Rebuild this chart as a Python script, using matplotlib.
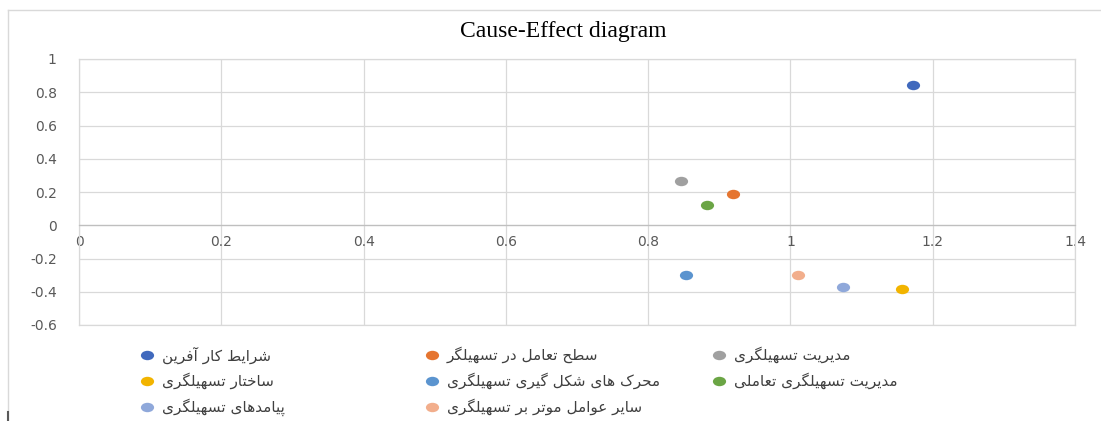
import matplotlib
matplotlib.use('Agg')
import matplotlib.pyplot as plt
from matplotlib.path import Path
from matplotlib.transforms import Affine2D
from matplotlib.lines import Line2D

# series labels (one point each)
labels = ['شرایط کار آفرین', 'سطح تعامل در تسهیلگر', 'مدیریت تسهیلگری',
          'ساختار تسهیلگری', 'محرک های شکل گیری تسهیلگری', 'مدیریت تسهیلگری تعاملی',
          'پیامدهای تسهیلگری', 'سایر عوامل موتر بر تسهیلگری']
x_vals = [1.172, 0.919, 0.846, 1.157, 0.853, 0.883, 1.074, 1.010]
y_vals = [0.844, 0.188, 0.264, -0.382, -0.300, 0.122, -0.372, -0.300]
colors = ['#4069BD', '#E57530', '#A0A0A0', '#F2B400', '#5B94CF', '#6BA545', '#8FA8DA', '#F2AE8C']

x_ticks = [0, 0.2, 0.4, 0.6, 0.8, 1.0, 1.2, 1.4]
y_ticks = [-0.6, -0.4, -0.2, 0, 0.2, 0.4, 0.6, 0.8, 1.0]

W, H = 1101, 421

# no bidi/shaping in matplotlib: use presentation forms and reverse
FORMS = {
    'ا': ('\uFE8D', '\uFE8E'),
    'آ': ('\uFE81', '\uFE82'),
    'ب': ('\uFE8F', '\uFE90', '\uFE91', '\uFE92'),
    'پ': ('\uFB56', '\uFB57', '\uFB58', '\uFB59'),
    'ت': ('\uFE95', '\uFE96', '\uFE97', '\uFE98'),
    'ح': ('\uFEA1', '\uFEA2', '\uFEA3', '\uFEA4'),
    'خ': ('\uFEA5', '\uFEA6', '\uFEA7', '\uFEA8'),
    'د': ('\uFEA9', '\uFEAA'),
    'ر': ('\uFEAD', '\uFEAE'),
    'س': ('\uFEB1', '\uFEB2', '\uFEB3', '\uFEB4'),
    'ش': ('\uFEB5', '\uFEB6', '\uFEB7', '\uFEB8'),
    'ط': ('\uFEC1', '\uFEC2', '\uFEC3', '\uFEC4'),
    'ع': ('\uFEC9', '\uFECA', '\uFECB', '\uFECC'),
    'ف': ('\uFED1', '\uFED2', '\uFED3', '\uFED4'),
    'ک': ('\uFB8E', '\uFB8F', '\uFB90', '\uFB91'),
    'گ': ('\uFB92', '\uFB93', '\uFB94', '\uFB95'),
    'ل': ('\uFEDD', '\uFEDE', '\uFEDF', '\uFEE0'),
    'م': ('\uFEE1', '\uFEE2', '\uFEE3', '\uFEE4'),
    'ن': ('\uFEE5', '\uFEE6', '\uFEE7', '\uFEE8'),
    'ه': ('\uFEE9', '\uFEEA', '\uFEEB', '\uFEEC'),
    'و': ('\uFEED', '\uFEEE'),
    'ی': ('\uFBFC', '\uFBFD', '\uFBFE', '\uFBFF'),
}


def shape(s):
    s = s.replace('\u064A', 'ی').replace('\u0643', 'ک')
    out = []
    for i, c in enumerate(s):
        if c not in FORMS:
            out.append(c)
            continue
        f = FORMS[c]
        prev = s[i - 1] if i > 0 else ''
        nxt = s[i + 1] if i + 1 < len(s) else ''
        jp = prev in FORMS and len(FORMS[prev]) == 4
        jn = len(f) == 4 and nxt in FORMS
        if jp and jn:
            out.append(f[3])
        elif jp:
            out.append(f[1])
        elif jn:
            out.append(f[2])
        else:
            out.append(f[0])
    return ''.join(reversed(out))


plt.rcParams['font.family'] = ['DejaVu Sans']

fig = plt.figure(figsize=(W / 100, H / 100), dpi=100)
ax = fig.add_axes([79 / W, 1 - 325 / H, (1075 - 79) / W, (325 - 59) / H])

# Excel markers look stretched sideways
ellipse = Path.unit_circle().transformed(Affine2D().scale(1.4, 1.0))

for x, y, c, lab in zip(x_vals, y_vals, colors, labels):
    ax.plot([x], [y], linestyle='none', marker=ellipse, ms=9.5, color=c,
            mec='none', label=lab, zorder=3)

ax.set_xlim(0, 1.4)
ax.set_ylim(-0.6, 1.0)
ax.set_xticks(x_ticks)
ax.set_yticks(y_ticks)
ax.set_xticklabels([f'{v:g}' for v in x_ticks])
ax.set_yticklabels([f'{v:g}' for v in y_ticks])
ax.tick_params(length=0, labelsize=10, colors='#595959')
ax.tick_params(axis='y', pad=16)
ax.tick_params(axis='x', pad=7)
ax.grid(True, color='#D9D9D9', linewidth=0.9)
ax.set_axisbelow(True)
for side in ['top', 'right', 'left']:
    ax.spines[side].set_color('#D9D9D9')
    ax.spines[side].set_linewidth(0.9)
ax.spines['bottom'].set_position(('data', 0))
ax.spines['bottom'].set_color('#BFBFBF')
ax.spines['bottom'].set_linewidth(0.9)
ax.axhline(-0.6, color='#D9D9D9', linewidth=0.9, clip_on=False)

fig.text(563 / W, 1 - 31 / H, 'Cause-Effect diagram', ha='center', va='center',
         fontsize=17, family='Liberation Serif', color='#000000')

# legend, laid out like Excel's fixed three columns
col_x = [147, 432, 719]
row_y = [355, 381, 407]
for i, (lab, c) in enumerate(zip(labels, colors)):
    mx = col_x[i % 3]
    my = row_y[i // 3]
    fig.add_artist(Line2D([mx / W], [1 - my / H], transform=fig.transFigure,
                          linestyle='none', marker=ellipse, ms=9.5, color=c, mec='none'))
    fig.text((mx + 15) / W, 1 - my / H, shape(lab), ha='left', va='center',
             fontsize=11, color='#404040')

# chart area border
fig.add_artist(Line2D([8 / W, 8 / W], [1 - 10 / H, 0], transform=fig.transFigure,
                      color='#D9D9D9', linewidth=1))
fig.add_artist(Line2D([8 / W, 1], [1 - 10 / H, 1 - 10 / H], transform=fig.transFigure,
                      color='#D9D9D9', linewidth=1))
fig.add_artist(Line2D([8 / W, 8 / W], [1 - 412 / H, 0], transform=fig.transFigure,
                      color='#595959', linewidth=1.5))

fig.savefig('out.png', dpi=100)
